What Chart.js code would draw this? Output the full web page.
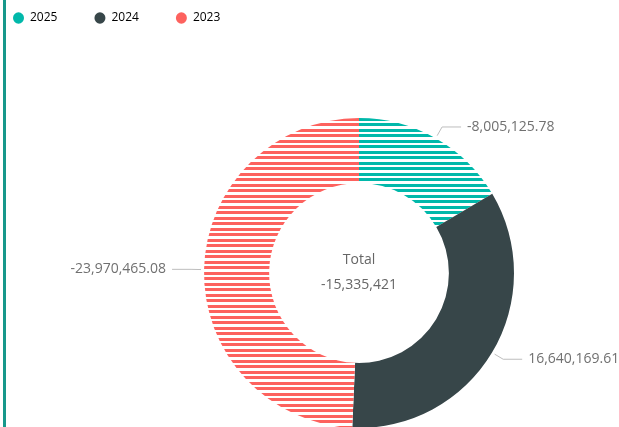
<!DOCTYPE html>
<html>
<head>
<meta charset="utf-8">
<script src="https://cdn.jsdelivr.net/npm/chart.js@4.4.1/dist/chart.umd.min.js"></script>
<style>
  html, body { margin: 0; padding: 0; width: 619px; height: 427px; overflow: hidden; background: #fff; }
  body { position: relative; }
  #barra { position: absolute; left: 3px; top: 0; width: 3px; height: 427px; background: #17988b; }
  #grafico { position: absolute; left: -24px; top: -25px; }
</style>
</head>
<body>
<div id="barra"></div>
<canvas id="grafico" width="766" height="537"></canvas>
<script>
// dados do gráfico
const anos = ['2025', '2024', '2023'];
const valores = [-8005125.78, 16640169.61, -23970465.08];
const cores = ['#01B8AA', '#374649', '#FD625E'];
const listrado = [true, false, true];

// padrão de listras horizontais
function listras(cor) {
  const c = document.createElement('canvas');
  c.width = 8;
  c.height = 11;
  const g = c.getContext('2d');
  g.fillStyle = '#fff';
  g.fillRect(0, 0, 8, 11);
  g.fillStyle = cor;
  g.fillRect(0, 0, 8, 3);
  g.fillRect(0, 5, 8, 3);
  return g.createPattern(c, 'repeat');
}

const preenchimento = cores.map((c, i) => listrado[i] ? listras(c) : c);

function formata(v, casas) {
  return v.toLocaleString('en-US', { minimumFractionDigits: casas, maximumFractionDigits: casas });
}

// rótulos com linhas de chamada + total no centro
const rotulos = {
  id: 'rotulos',
  afterDatasetsDraw(chart) {
    const ctx = chart.ctx;
    const meta = chart.getDatasetMeta(0);
    ctx.save();
    ctx.font = '14px "Open Sans"';
    ctx.strokeStyle = '#bdbdbd';
    ctx.lineWidth = 1;
    ctx.fillStyle = '#707070';
    ctx.textBaseline = 'middle';
    meta.data.forEach((arco, i) => {
      const p = arco.getProps(['x', 'y', 'startAngle', 'endAngle', 'outerRadius'], true);
      const meio = (p.startAngle + p.endAngle) / 2;
      const dx = Math.cos(meio), dy = Math.sin(meio);
      const x0 = p.x + dx * (p.outerRadius + 3), y0 = p.y + dy * (p.outerRadius + 3);
      const x1 = p.x + dx * (p.outerRadius + 13), y1 = p.y + dy * (p.outerRadius + 13);
      const lado = dx >= 0 ? 1 : -1;
      const x2 = x1 + lado * 19;
      ctx.beginPath();
      ctx.moveTo(x0, y0);
      ctx.lineTo(x1, y1);
      ctx.lineTo(x2, y1);
      ctx.stroke();
      ctx.textAlign = lado > 0 ? 'left' : 'right';
      ctx.fillText(formata(valores[i], 2), x2 + lado * 6, y1);
    });
    const a = meta.data[0];
    const total = valores.reduce((s, v) => s + v, 0);
    ctx.textAlign = 'center';
    ctx.fillStyle = '#666';
    ctx.font = '14px "Open Sans"';
    ctx.fillText('Total', a.x, a.y - 13);
    ctx.fillText(formata(Math.round(total), 0), a.x, a.y + 12);
    ctx.restore();
  }
};

const ctx = document.getElementById('grafico').getContext('2d');
const grafico = new Chart(ctx, {
  type: 'doughnut',
  data: {
    labels: anos,
    datasets: [{
      data: valores,
      backgroundColor: preenchimento,
      borderWidth: 0
    }]
  },
  options: {
    responsive: false,
    animation: false,
    events: [],
    radius: 155,
    cutout: '58%',
    plugins: {
      legend: {
        position: 'top',
        align: 'start',
        labels: {
          usePointStyle: true,
          pointStyle: 'circle',
          pointStyleWidth: 11,
          boxHeight: 8,
          padding: 37,
          color: '#333',
          font: { family: 'Open Sans', size: 12 },
          generateLabels: (chart) => anos.map((a, i) => ({
            text: a,
            fillStyle: cores[i],
            strokeStyle: cores[i],
            lineWidth: 0,
            pointStyle: 'circle',
            index: i,
            hidden: false
          }))
        }
      },
      tooltip: { enabled: false }
    }
  },
  plugins: [rotulos]
});
</script>
</body>
</html>
